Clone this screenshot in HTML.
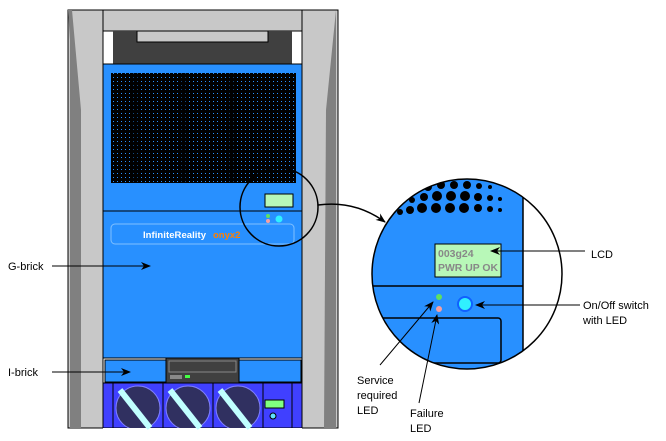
<!DOCTYPE html>
<html><head><meta charset="utf-8"><style>
html,body{margin:0;padding:0;background:#fff;}
svg{display:block;font-family:"Liberation Sans",sans-serif;}
</style></head><body>
<svg width="666" height="441" viewBox="0 0 666 441" xmlns="http://www.w3.org/2000/svg">
<defs>
<pattern id="grille" width="4" height="4" patternUnits="userSpaceOnUse">
<rect width="4" height="4" fill="#000"/><rect x="1" y="1" width="1" height="1" fill="#2890ff"/>
</pattern>
<clipPath id="zc"><circle cx="467" cy="274" r="95"/></clipPath>
<marker id="ah" markerWidth="10" markerHeight="8" refX="9" refY="4" orient="auto" markerUnits="userSpaceOnUse"><path d="M0,0 L10,4 L0,8 L3,4z" fill="#000"/></marker>
</defs>
<rect x="68" y="10" width="35" height="418" fill="#c8c8c8" stroke="#000"/>
<polygon points="68,10 70,40 70,428 81,428 81,110 72,10" fill="#808080"/>
<rect x="302" y="10" width="36" height="418" fill="#c8c8c8" stroke="#000"/>
<polygon points="336,10 326,110 324,428 336,428" fill="#808080"/>
<rect x="103" y="10" width="199" height="21" fill="#c8c8c8" stroke="#000"/>
<rect x="103" y="31" width="199" height="33" fill="#fff" stroke="#000"/>
<rect x="113" y="31" width="179" height="33" fill="#404040"/>
<rect x="137" y="31" width="131" height="11" fill="#c8c8c8" stroke="#000"/>
<rect x="103" y="64" width="199" height="294" fill="#2890ff" stroke="#000"/>
<rect x="111" y="73" width="185" height="110" fill="url(#grille)"/>
<rect x="130" y="73" width="8" height="110" fill="#000" opacity=".5"/>
<rect x="178" y="73" width="8" height="110" fill="#000" opacity=".5"/>
<rect x="226" y="73" width="8" height="110" fill="#000" opacity=".5"/>
<line x1="103" y1="211" x2="302" y2="211" stroke="#000"/>
<rect x="265" y="194" width="28" height="13" fill="#b8f8b8" stroke="#000"/>
<circle cx="268" cy="216" r="2" fill="#60e060"/><circle cx="268" cy="221" r="2" fill="#f8a0a0"/>
<circle cx="279" cy="219" r="3.5" fill="#30f0ff"/>
<rect x="111" y="224" width="183" height="20" rx="4" fill="none" stroke="#80c0ff"/>
<text x="143" y="238" font-size="9.5" font-weight="bold" fill="#fff" textLength="63">InfiniteReality</text>
<text x="213" y="238" font-size="9.5" font-weight="bold" fill="#ff8000">onyx2</text>
<circle cx="279" cy="207" r="39" fill="none" stroke="#000" stroke-width="1.5"/>
<rect x="103" y="358" width="199" height="25" fill="#fff" stroke="#000"/>
<rect x="105" y="360" width="196" height="22" fill="#2890ff" stroke="#000"/>
<rect x="166" y="358" width="73" height="25" fill="#404040" stroke="#000"/>
<rect x="169" y="361" width="67" height="11" fill="#404040" stroke="#888"/>
<rect x="170" y="375" width="12" height="4" fill="#888"/><rect x="185" y="375" width="5" height="3" fill="#4f4"/>
<rect x="103" y="383" width="199" height="45" fill="#4040ff" stroke="#000"/>
<circle cx="138" cy="408" r="22" fill="#303060" stroke="#8080ff"/>
<circle cx="188" cy="408" r="22" fill="#303060" stroke="#8080ff"/>
<circle cx="238" cy="408" r="22" fill="#303060" stroke="#8080ff"/>
<rect x="103" y="428" width="199" height="13" fill="#fff"/>
<line x1="120" y1="390" x2="150" y2="428" stroke="#c0ffff" stroke-width="6"/>
<line x1="170" y1="390" x2="200" y2="428" stroke="#c0ffff" stroke-width="6"/>
<line x1="220" y1="390" x2="250" y2="428" stroke="#c0ffff" stroke-width="6"/>
<line x1="113" y1="383" x2="113" y2="428" stroke="#000"/><line x1="163" y1="383" x2="163" y2="428" stroke="#000"/><line x1="213" y1="383" x2="213" y2="428" stroke="#000"/><line x1="263" y1="383" x2="263" y2="428" stroke="#000"/><line x1="292" y1="383" x2="292" y2="428" stroke="#000"/>
<rect x="265" y="400" width="19" height="8" fill="#80ff80" stroke="#000"/>
<circle cx="273" cy="416" r="3" fill="#60e0ff" stroke="#000"/>
<text x="8" y="270" font-size="11">G-brick</text>
<line x1="52" y1="266" x2="150" y2="266" stroke="#000" marker-end="url(#ah)"/>
<text x="8" y="376" font-size="11">I-brick</text>
<line x1="52" y1="372" x2="130" y2="372" stroke="#000" marker-end="url(#ah)"/>
<path d="M318,205 Q355,200 385,222" fill="none" stroke="#000" stroke-width="1.5" marker-end="url(#ah)"/>
<g clip-path="url(#zc)">
<rect x="370" y="178" width="153" height="195" fill="#2890ff"/>
<rect x="523" y="178" width="50" height="195" fill="#fff"/>
<line x1="523" y1="178" x2="523" y2="373" stroke="#000" stroke-width="1.5"/>
<line x1="370" y1="286" x2="523" y2="286" stroke="#000" stroke-width="1.5"/>
<rect x="360" y="318" width="141" height="45" rx="3" fill="none" stroke="#000" stroke-width="1.5"/>
<g fill="#000">
<circle cx="400" cy="212" r="3"/><circle cx="410" cy="210" r="4"/><circle cx="422" cy="208" r="5"/><circle cx="436" cy="208" r="5"/><circle cx="450" cy="208" r="5"/><circle cx="464" cy="208" r="5"/><circle cx="478" cy="208" r="4"/><circle cx="490" cy="209" r="3"/><circle cx="500" cy="210" r="2"/>
<circle cx="412" cy="200" r="3"/><circle cx="424" cy="197" r="4"/><circle cx="437" cy="196" r="5"/><circle cx="451" cy="196" r="5"/><circle cx="465" cy="196" r="5"/><circle cx="478" cy="197" r="4"/><circle cx="490" cy="198" r="3"/><circle cx="500" cy="199" r="2"/>
<circle cx="428" cy="187" r="4"/><circle cx="441" cy="185" r="4"/><circle cx="454" cy="185" r="4"/><circle cx="467" cy="185" r="4"/><circle cx="479" cy="186" r="3"/><circle cx="490" cy="187" r="2"/>
</g>
</g>
<circle cx="467" cy="274" r="95" fill="none" stroke="#000" stroke-width="1.5"/>
<rect x="435" y="244" width="66" height="33" fill="#b8f8b8" stroke="#000"/>
<text x="438" y="257" font-size="10.5" font-weight="bold" fill="#888">003g24</text>
<text x="438" y="271" font-size="10.5" font-weight="bold" fill="#888" textLength="60" lengthAdjust="spacingAndGlyphs">PWR UP OK</text>
<circle cx="439" cy="297" r="3" fill="#60e060"/>
<circle cx="439" cy="309" r="3" fill="#f8a0a0"/>
<circle cx="465" cy="304" r="7" fill="#30f0ff" stroke="#1060ff" stroke-width="2"/>
<text x="591" y="258" font-size="11">LCD</text>
<line x1="585" y1="251" x2="491" y2="251" stroke="#000" marker-end="url(#ah)"/>
<text x="583" y="309" font-size="11">On/Off switch</text>
<text x="583" y="324" font-size="11">with LED</text>
<line x1="580" y1="305" x2="476" y2="305" stroke="#000" marker-end="url(#ah)"/>
<text x="357" y="384" font-size="11">Service</text>
<text x="357" y="399" font-size="11">required</text>
<text x="357" y="414" font-size="11">LED</text>
<line x1="380" y1="365" x2="433" y2="302" stroke="#000" marker-end="url(#ah)"/>
<text x="410" y="417" font-size="11">Failure</text>
<text x="410" y="432" font-size="11">LED</text>
<line x1="419" y1="403" x2="437" y2="315" stroke="#000" marker-end="url(#ah)"/>
</svg>
</body></html>
